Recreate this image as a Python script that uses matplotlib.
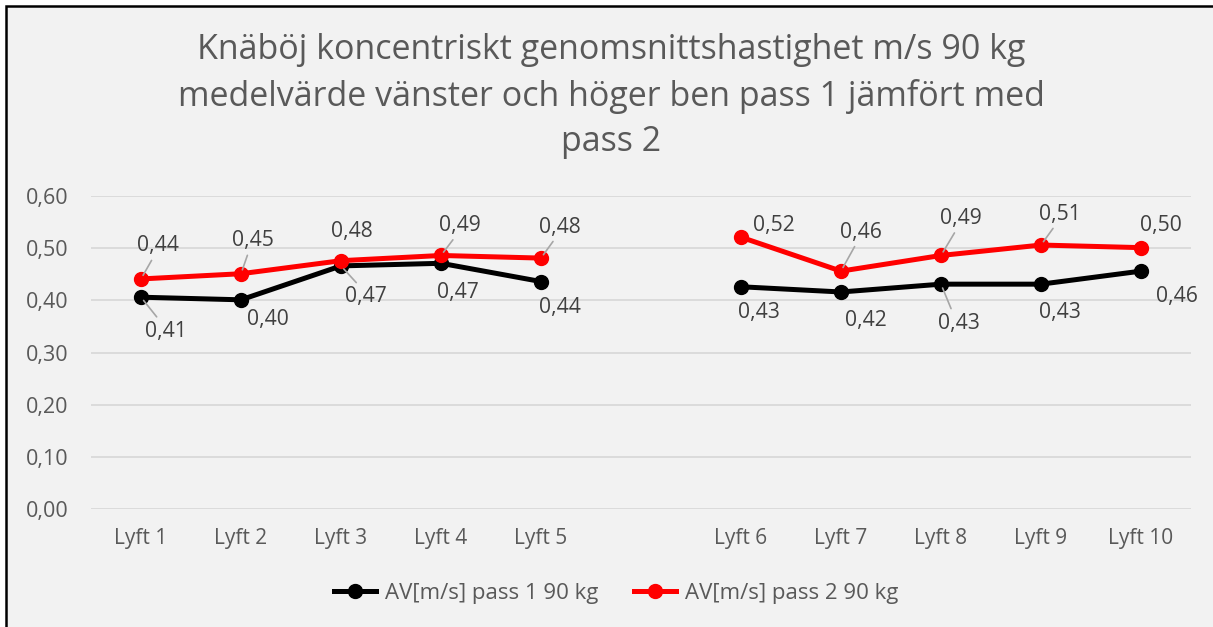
import matplotlib.pyplot as plt
import numpy as np
from matplotlib.patches import Rectangle

plt.rcParams['font.family'] = ['Open Sans', 'DejaVu Sans']

# data
categories = ['Lyft 1', 'Lyft 2', 'Lyft 3', 'Lyft 4', 'Lyft 5', '',
              'Lyft 6', 'Lyft 7', 'Lyft 8', 'Lyft 9', 'Lyft 10']
pass1 = [0.406, 0.401, 0.466, 0.471, 0.436, np.nan, 0.426, 0.416, 0.431, 0.431, 0.456]
pass2 = [0.441, 0.451, 0.476, 0.486, 0.481, np.nan, 0.521, 0.456, 0.486, 0.506, 0.501]
name1 = 'AV[m/s] pass 1 90 kg'
name2 = 'AV[m/s] pass 2 90 kg'
title = ('Knäböj koncentriskt genomsnittshastighet m/s 90 kg\n'
         'medelvärde vänster och höger ben pass 1 jämfört med\npass 2')

# label offsets in pixels (dx, dy up) and whether a leader line is drawn
off1 = [(25, -34), (27, -20), (25, -31), (17, -29), (19, -26), None,
        (18, -26), (25, -29), (18, -39), (19, -28), (36, -25)]
lead1 = [1, 0, 1, 0, 0, 0, 0, 0, 1, 0, 0]
off2 = [(17, 33), (12, 33), (11, 29), (19, 30), (19, 31), None,
        (33, 12), (20, 39), (20, 37), (19, 31), (20, 22)]
lead2 = [1, 1, 0, 1, 1, 0, 0, 1, 1, 1, 0]

grey = '#595959'
fig = plt.figure(figsize=(12.13, 6.27), dpi=100, facecolor='white')
fig.patches.append(Rectangle((6 / 1213, -0.05), 1.1, 1.05 - 6 / 627,
                             transform=fig.transFigure, facecolor='#f2f2f2',
                             edgecolor='black', linewidth=1.8, zorder=-10))
ax = fig.add_axes([91 / 1213, 1 - 509 / 627, 1100 / 1213, 313 / 627])
ax.set_facecolor('none')

x = np.arange(len(categories))
ax.plot(x, pass1, color='black', lw=3.6, marker='o', ms=10, label=name1, zorder=3)
ax.plot(x, pass2, color='#ff0000', lw=3.6, marker='o', ms=10, label=name2, zorder=4)

px = 72 / 100  # pixels -> points
for vals, offs, leads in [(pass1, off1, lead1), (pass2, off2, lead2)]:
    for i, v in enumerate(vals):
        if offs[i] is None:
            continue
        dx, dy = offs[i]
        ap = None
        if leads[i]:
            ap = dict(arrowstyle='-', color='#a6a6a6', lw=1.2, shrinkA=1, shrinkB=3,
                      relpos=(0.35, 1.0) if dy < 0 else (0.4, 0.0))
        ax.annotate(f'{v:.2f}'.replace('.', ','), (i, v), xytext=(dx * px, dy * px),
                    textcoords='offset points', ha='center', va='center',
                    fontsize=15.2, color='#404040', arrowprops=ap, zorder=5)

ax.set_xlim(-0.5, 10.5)
ax.set_ylim(0, 0.6)
yt = np.arange(0, 0.61, 0.1)
ax.set_yticks(yt)
ax.set_yticklabels([f'{t:.2f}'.replace('.', ',') for t in yt])
ax.set_xticks(x)
ax.set_xticklabels(categories)
ax.tick_params(length=0, labelsize=15, labelcolor=grey, pad=14)
ax.tick_params(axis='y', labelsize=15.5, pad=16)
ax.grid(axis='y', color='#d9d9d9', lw=1.3)
ax.set_axisbelow(True)
for s in ax.spines.values():
    s.set_visible(False)

fig.text(0.504, 1 - 96 / 627, title, ha='center', va='center', fontsize=24.5,
         color=grey, linespacing=1.42)
fig.legend(loc='center', bbox_to_anchor=(616 / 1213, 1 - 593 / 627), ncol=2, frameon=False,
           fontsize=16, labelcolor=grey, handlelength=1.9, handletextpad=0.4,
           columnspacing=1.6)

fig.savefig('out.png', dpi=100, facecolor=fig.get_facecolor())
